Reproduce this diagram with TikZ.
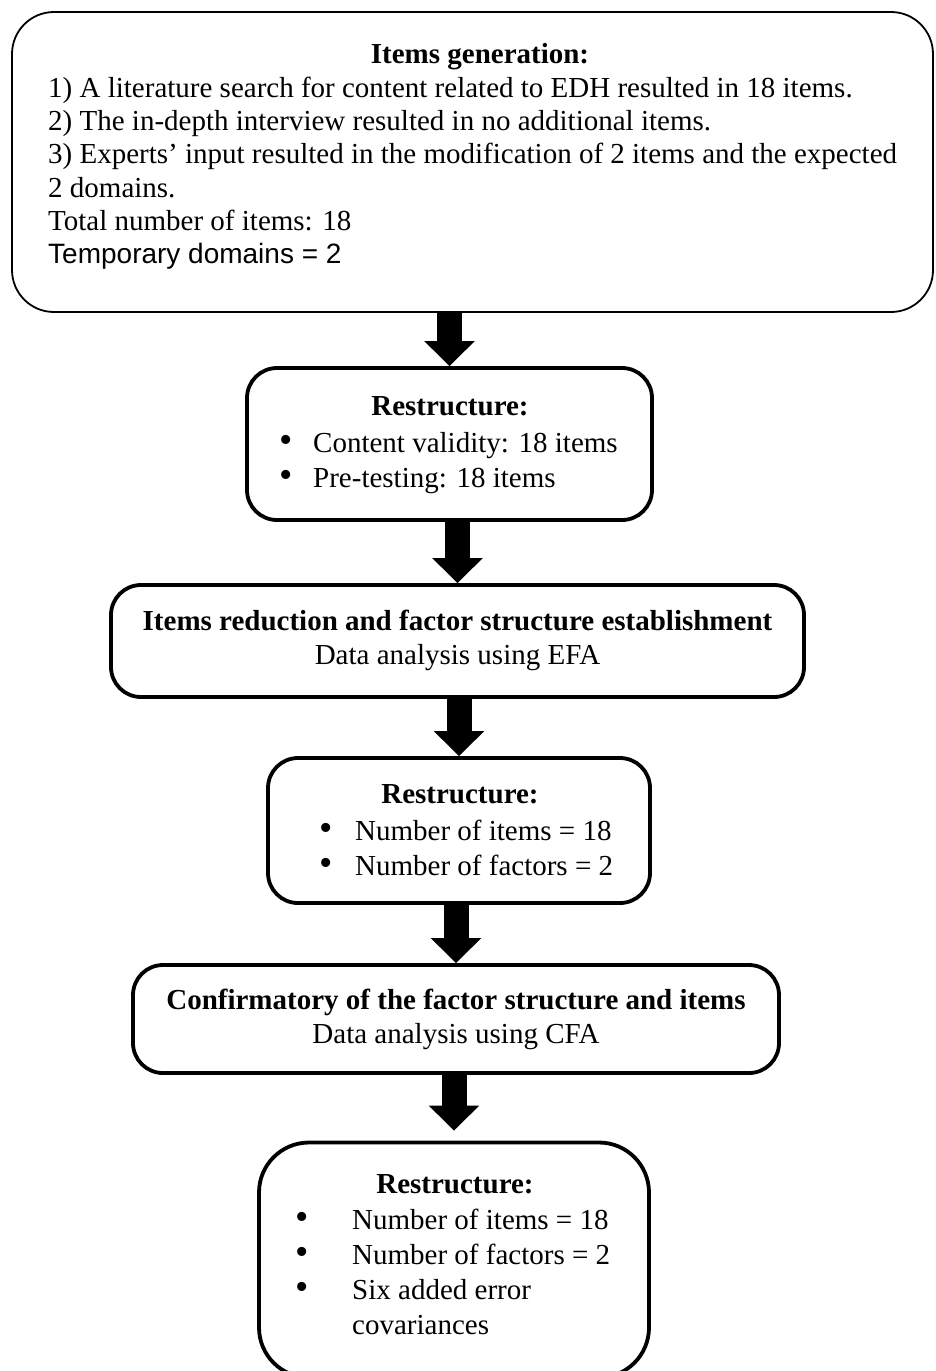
\documentclass[tikz,border=0pt]{standalone}
\usepackage{fontspec}
\setmainfont{Liberation Serif}
\newfontfamily\arialfont{Liberation Sans}
\usetikzlibrary{arrows.meta}
\usetikzlibrary{positioning}
\tikzstyle{thinbox}=[draw,line width=1.8pt,inner sep=0pt]
\tikzstyle{thickbox}=[draw,line width=3.8pt,inner sep=0pt,rounded corners=30pt]
\tikzstyle{blockarrow}=[draw,line width=25pt,-{Triangle[width=49pt,length=25pt]}]
\tikzstyle{boxtext}=[inner sep=0pt,font=\fontsize{29}{34}\selectfont]
\tikzstyle{boxhead}=[inner sep=0pt,font=\fontsize{29}{34}\selectfont\bfseries]
\newcommand{\bigbul}{\smash{\fontsize{38}{38}\selectfont\textbullet}}

\begin{document}
\begin{tikzpicture}[x=1pt,y=-1pt]
    \useasboundingbox (0,0) rectangle (935,1371);
    % First we draw the boxes
    \node[thinbox, rounded corners=42pt, minimum width=921pt, minimum height=300pt] (gen) at (472.5,162) {};
    \node[thickbox, minimum width=405pt, minimum height=152pt] (content) at (449.5,444) {};
    \node[thickbox, minimum width=693pt, minimum height=112pt] (efa) at (457.5,641) {};
    \node[thickbox, minimum width=382pt, minimum height=145pt] (restr) at (459,830.5) {};
    \node[thickbox, minimum width=646pt, minimum height=108pt] (cfa) at (456,1019) {};
    \node[thickbox, rounded corners=50pt, minimum width=390pt, minimum height=235pt] (final) at (454,1260) {};

    % Items generation
    \node[boxhead, anchor=base] (genhead) at (480,63) {Items generation:};
    \foreach \y/\name/\txt in {97/gen1/{1) A literature search for content related to EDH resulted in 18 items.},
                               130/gen2/{2) The in-depth interview resulted in no additional items.},
                               163/gen3/{3) Experts’ input resulted in the modification of 2 items and the expected},
                               197/gen4/{2 domains.},
                               230/gen5/{Total number of items: 18}}
        \node[boxtext, anchor=base west] (\name) at (48,\y) {\txt};
    \node[boxtext, anchor=base west, font=\fontsize{28}{34}\arialfont] (gen6) at (48,263) {Temporary domains = 2};

    % Restructure after content validity
    \node[boxhead, anchor=base] (contenthead) at (450,415) {Restructure:};
    \foreach \y/\name/\txt in {452/content1/{Content validity: 18 items}, 487/content2/{Pre-testing: 18 items}}
        \node[boxtext, anchor=base west] (\name) at (279,\y) {\makebox[34pt][l]{\bigbul}\txt};

    % EFA
    \node[boxhead, anchor=base] (efahead) at (457.5,630) {Items reduction and factor structure establishment};
    \node[boxtext, anchor=base] (efaline) at (457.5,664) {Data analysis using EFA};

    % Restructure after EFA
    \node[boxhead, anchor=base] (restrhead) at (460,803) {Restructure:};
    \foreach \y/\name/\txt in {840/restr1/{Number of items = 18}, 875/restr2/{Number of factors = 2}}
        \node[boxtext, anchor=base west] (\name) at (319,\y) {\makebox[36pt][l]{\bigbul}\txt};

    % CFA
    \node[boxhead, anchor=base] (cfahead) at (456,1009) {Confirmatory of the factor structure and items};
    \node[boxtext, anchor=base] (cfaline) at (456,1043) {Data analysis using CFA};

    % Final restructure
    \node[boxhead, anchor=base] (finalhead) at (455,1193) {Restructure:};
    \foreach \y/\name/\sym/\txt in {1229/final1/\bigbul/{Number of items = 18}, 1264/final2/\bigbul/{Number of factors = 2},
                                    1299/final3/\bigbul/{Six added error}, 1334/final4/{}/{covariances}}
        \node[boxtext, anchor=base west] (\name) at (295,\y) {\makebox[57pt][l]{\sym}\txt};

    % Connect boxes with block arrows
    \foreach \source/\dest in {gen/content, content/efa, efa/restr, restr/cfa}
        \path[blockarrow] (\source.south -| \dest.north) -- (\dest.north);
    \path[blockarrow, shorten >=10pt] (cfa.south -| final.north) -- (final.north);
\end{tikzpicture}
\end{document}
